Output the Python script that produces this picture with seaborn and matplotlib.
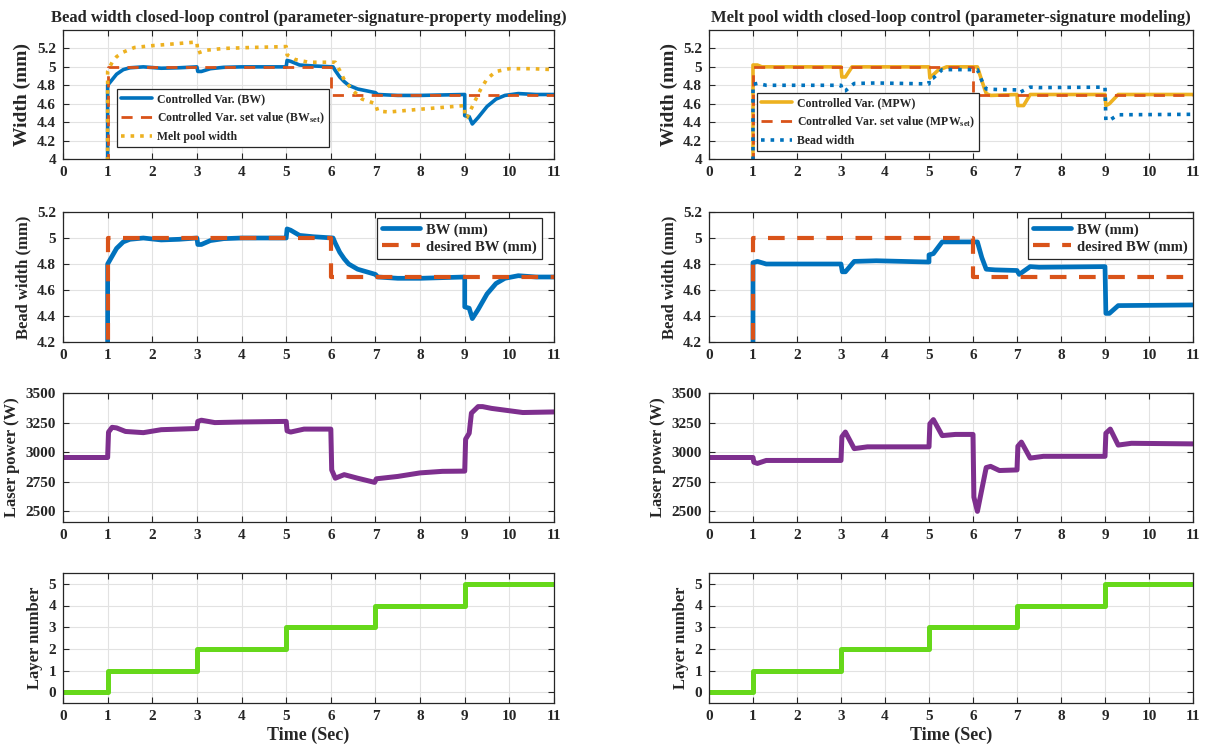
import seaborn as sns
import matplotlib.pyplot as plt
from matplotlib.ticker import FormatStrFormatter

# ---- data (time in s) ----
# left column: bead width control
t_bw_l = [0, 1.0, 1.0, 1.1, 1.2, 1.35, 1.5, 1.8, 2.2, 2.6, 3.0, 3.02, 3.1, 3.3, 3.6, 4.0,
          5.0, 5.02, 5.1, 5.3, 5.6, 6.05, 6.1, 6.2, 6.3, 6.4, 6.6, 6.8, 7.0, 7.05, 7.5, 8.0,
          9.0, 9.0, 9.1, 9.17, 9.3, 9.5, 9.7, 9.9, 10.2, 10.6, 11]
bw_l = [0, 0, 4.80, 4.86, 4.92, 4.97, 4.99, 5.0, 4.985, 4.99, 5.0, 4.95, 4.95, 4.98, 4.995, 5.0,
        5.0, 5.07, 5.06, 5.02, 5.01, 5.0, 4.96, 4.89, 4.84, 4.80, 4.76, 4.74, 4.72, 4.70, 4.69, 4.69,
        4.70, 4.47, 4.46, 4.38, 4.45, 4.57, 4.65, 4.69, 4.71, 4.70, 4.70]

t_mpw_l = [0, 1.0, 1.0, 1.1, 1.2, 1.35, 1.6, 2.0, 2.5, 3.0, 3.02, 3.2, 3.6, 4.2, 5.0, 5.02,
           5.2, 5.5, 6.1, 6.2, 6.3, 6.5, 6.7, 7.0, 7.05, 7.3, 8.0, 9.0, 9.0, 9.05, 9.2, 9.35,
           9.5, 9.7, 10.0, 10.5, 11]
mpw_l = [0, 0, 4.95, 5.05, 5.11, 5.16, 5.21, 5.23, 5.25, 5.27, 5.15, 5.18, 5.20, 5.21, 5.22, 5.13,
         5.08, 5.05, 5.05, 4.96, 4.86, 4.74, 4.65, 4.60, 4.52, 4.51, 4.54, 4.58, 4.45, 4.45, 4.60, 4.75,
         4.87, 4.95, 4.98, 4.98, 4.97]

t_set = [0, 1, 1, 6, 6, 11]
width_set = [0, 0, 5.0, 5.0, 4.7, 4.7]

t_pow_l = [0, 1.0, 1.02, 1.1, 1.2, 1.4, 1.8, 2.2, 3.0, 3.02, 3.1, 3.4, 4.0, 5.0, 5.02, 5.1,
           5.4, 6.0, 6.02, 6.1, 6.3, 6.6, 6.98, 7.02, 7.5, 8.0, 8.5, 9.0, 9.02, 9.1, 9.15, 9.3,
           9.4, 9.6, 10.0, 10.3, 11]
pow_l = [2955, 2955, 3170, 3210, 3205, 3175, 3165, 3190, 3200, 3260, 3270, 3250, 3255, 3260, 3180, 3170,
         3195, 3195, 2850, 2780, 2810, 2780, 2745, 2775, 2795, 2825, 2838, 2840, 3110, 3160, 3330, 3385,
         3385, 3370, 3350, 3335, 3340]

# right column: melt pool width control
t_mpw_r = [0, 1.0, 1.0, 1.1, 1.2, 3.0, 3.02, 3.1, 3.25, 5.0, 5.02, 5.2, 5.4, 6.1, 6.2, 6.3,
           6.4, 7.0, 7.02, 7.15, 7.3, 9.0, 9.02, 9.1, 9.3, 11]
mpw_r = [0, 0, 5.02, 5.02, 5.0, 5.0, 4.89, 4.89, 5.0, 5.0, 4.88, 4.96, 5.0, 5.0, 4.85, 4.71,
         4.69, 4.70, 4.58, 4.58, 4.70, 4.70, 4.58, 4.60, 4.70, 4.70]

t_bw_r = [0, 1.0, 1.0, 1.1, 1.3, 3.0, 3.03, 3.1, 3.3, 3.8, 5.0, 5.0, 5.1, 5.3, 6.1, 6.2,
          6.3, 6.5, 7.0, 7.05, 7.3, 7.5, 9.0, 9.02, 9.1, 9.3, 11]
bw_r = [0, 0, 4.81, 4.82, 4.80, 4.80, 4.74, 4.74, 4.82, 4.825, 4.815, 4.87, 4.88, 4.97, 4.97, 4.85,
        4.76, 4.755, 4.75, 4.72, 4.78, 4.775, 4.78, 4.42, 4.42, 4.48, 4.485]

t_pow_r = [0, 1.0, 1.02, 1.1, 1.3, 3.0, 3.02, 3.1, 3.3, 3.6, 5.0, 5.02, 5.1, 5.3, 5.6, 6.0,
           6.02, 6.1, 6.3, 6.4, 6.6, 7.0, 7.02, 7.1, 7.3, 7.6, 9.0, 9.02, 9.12, 9.3, 9.6, 11]
pow_r = [2955, 2955, 2915, 2905, 2930, 2930, 3130, 3170, 3030, 3045, 3045, 3240, 3275, 3140, 3150, 3150,
         2620, 2500, 2870, 2880, 2845, 2850, 3050, 3085, 2950, 2965, 2965, 3160, 3195, 3060, 3075, 3070]

t_layer = [0, 1, 3, 5, 7, 9, 11]
layers = [0, 1, 2, 3, 4, 5, 5]

BLUE = '#0072BD'
RED = '#D95319'
YELLOW = '#EDB120'
PURPLE = '#7E2F8E'
GREEN = '#66D81A'
DARK = '#262626'

sns.set_theme(style='ticks')
plt.rcParams['font.family'] = ['Liberation Serif', 'DejaVu Serif']
plt.rcParams['font.weight'] = 'bold'
plt.rcParams['axes.labelweight'] = 'bold'
plt.rcParams['axes.titleweight'] = 'bold'
plt.rcParams['mathtext.fontset'] = 'custom'
plt.rcParams['mathtext.rm'] = 'Liberation Serif:bold'
plt.rcParams['mathtext.it'] = 'Liberation Serif:bold'
plt.rcParams['mathtext.bf'] = 'Liberation Serif:bold'

fig = plt.figure(figsize=(12.07, 7.47), dpi=100)
W, H = 1207, 747


def make_ax(x0, x1, y0, y1):
    return fig.add_axes([x0 / W, 1 - y1 / H, (x1 - x0) / W, (y1 - y0) / H])


def style_ax(ax, ylim, yticks):
    ax.set_xlim(0, 11)
    ax.set_xticks(range(12))
    ax.set_ylim(*ylim)
    ax.set_yticks(yticks)
    ax.yaxis.set_major_formatter(FormatStrFormatter('%g'))
    ax.grid(True, color='#e2e2e2', lw=0.8)
    ax.set_axisbelow(True)
    ax.tick_params(direction='in', top=True, right=True, length=4, width=0.8,
                   colors=DARK, labelsize=11, pad=5)
    for s in ax.spines.values():
        s.set_color(DARK)
        s.set_linewidth(0.9)


def line(ax, x, y, color, lw, ls='-', label=None, dashes=None):
    sns.lineplot(x=x, y=y, ax=ax, color=color, lw=lw, ls=ls, label=label,
                 estimator=None, sort=False, legend=False)
    if dashes is not None:
        ax.lines[-1].set_dashes(dashes)


def legend(ax, loc, anchor, size, hlen, spacing):
    leg = ax.legend(loc=loc, bbox_to_anchor=anchor, borderaxespad=0, fontsize=size,
                    fancybox=False, framealpha=1, edgecolor=DARK, handlelength=hlen,
                    handletextpad=0.4, labelspacing=spacing, borderpad=0.35)
    leg.get_frame().set_linewidth(0.9)


cols = [(63, 554), (709, 1193)]
rows = [(30, 159), (212, 342), (393, 522), (573, 703)]

# ---- row 1: width control ----
ax = make_ax(*cols[0], *rows[0])
line(ax, t_bw_l, bw_l, BLUE, 2.6, label='Controlled Var. (BW)')
line(ax, t_set, width_set, RED, 2.0, '--', r'Controlled Var. set value (BW$_{\rm set}$)', dashes=(4, 3))
line(ax, t_mpw_l, mpw_l, YELLOW, 2.6, ':', 'Melt pool width')
style_ax(ax, (4, 5.4), [4, 4.2, 4.4, 4.6, 4.8, 5, 5.2])
ax.set_ylabel('Width (mm)', fontsize=14)
ax.set_title('Bead width closed-loop control (parameter-signature-property modeling)',
             fontsize=12, pad=6)
legend(ax, 'upper left', (54 / 491, 1 - 59 / 129), 8.5, 2.6, 0.45)

ax = make_ax(*cols[1], *rows[0])
line(ax, t_mpw_r, mpw_r, YELLOW, 2.6, label='Controlled Var. (MPW)')
line(ax, t_set, width_set, RED, 2.0, '--', r'Controlled Var. set value (MPW$_{\rm set}$)', dashes=(4, 3))
line(ax, t_bw_r, bw_r, BLUE, 2.6, ':', 'Bead width')
style_ax(ax, (4, 5.4), [4, 4.2, 4.4, 4.6, 4.8, 5, 5.2])
ax.set_ylabel('Width (mm)', fontsize=14)
ax.set_title('Melt pool width closed-loop control (parameter-signature modeling)',
             fontsize=12, pad=6)
legend(ax, 'upper left', (48 / 484, 1 - 63 / 129), 8.5, 2.6, 0.45)

# ---- row 2: bead width ----
for c, (tb, bw) in enumerate([(t_bw_l, bw_l), (t_bw_r, bw_r)]):
    ax = make_ax(*cols[c], *rows[1])
    line(ax, tb, bw, BLUE, 3.4, label='BW (mm)')
    line(ax, t_set, width_set, RED, 3.0, '--', 'desired BW (mm)', dashes=(4, 3))
    style_ax(ax, (4.2, 5.2), [4.2, 4.4, 4.6, 4.8, 5, 5.2])
    ax.set_ylabel('Bead width (mm)', fontsize=12)
    legend(ax, 'upper right', (1 - 12 / 491, 1 - 6 / 130) if c == 0 else (1.0, 1 - 6 / 130),
           10.5, 2.6, 0.25)

# ---- row 3: laser power ----
for c, (tp, pw) in enumerate([(t_pow_l, pow_l), (t_pow_r, pow_r)]):
    ax = make_ax(*cols[c], *rows[2])
    line(ax, tp, pw, PURPLE, 3.6)
    style_ax(ax, (2410, 3500), [2500, 2750, 3000, 3250, 3500])
    ax.set_ylabel('Laser power (W)', fontsize=12)

# ---- row 4: layer number ----
for c in range(2):
    ax = make_ax(*cols[c], *rows[3])
    sns.lineplot(x=t_layer, y=layers, ax=ax, color=GREEN, lw=3.6,
                 drawstyle='steps-post', estimator=None, sort=False)
    style_ax(ax, (-0.5, 5.5), [0, 1, 2, 3, 4, 5])
    ax.set_ylabel('Layer number', fontsize=12)
    ax.set_xlabel('Time (Sec)', fontsize=13, labelpad=3)

fig.savefig('out.png', dpi=100)
